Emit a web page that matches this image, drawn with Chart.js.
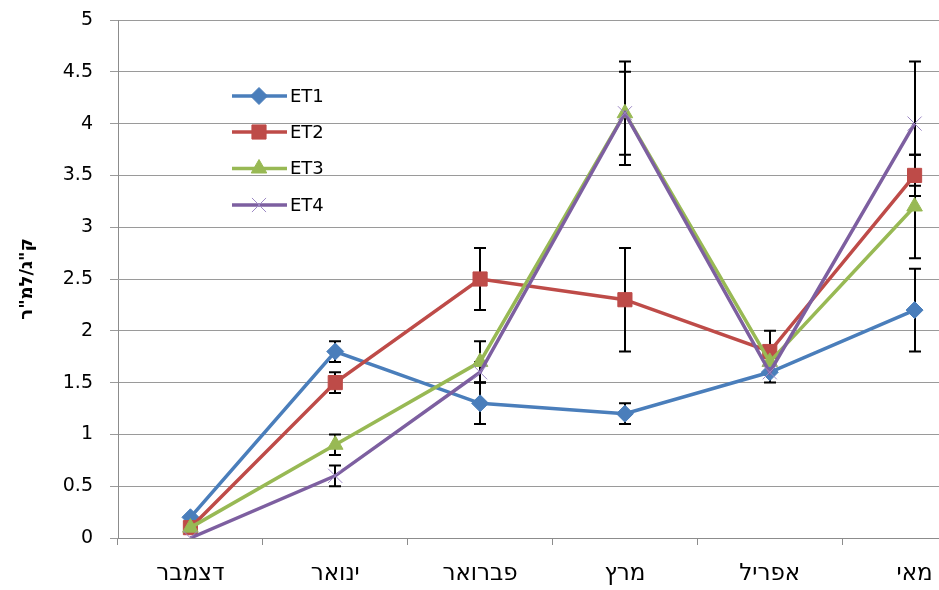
<!DOCTYPE html>
<html>
<head>
<meta charset="utf-8">
<script src="https://cdn.jsdelivr.net/npm/chart.js@4"></script>
<style>
  html, body { margin: 0; padding: 0; background: #fff; overflow: hidden; }
  #wrap { width: 939px; height: 590px; overflow: hidden; }
</style>
</head>
<body>
<div id="wrap"><canvas id="chart" width="1000" height="590"></canvas></div>
<script>
// chart data
const months = ["דצמבר", "ינואר", "פברואר", "מרץ", "אפריל", "מאי"];
const seriesNames = ["ET1", "ET2", "ET3", "ET4"];
const et1 = [0.2, 1.8, 1.3, 1.2, 1.6, 2.2];
const et2 = [0.1, 1.5, 2.5, 2.3, 1.8, 3.5];
const et3 = [0.1, 0.9, 1.7, 4.1, 1.7, 3.2];
const et4 = [0.0, 0.6, 1.6, 4.1, 1.6, 4.0];
// error bar half-heights
const et1Err = [0, 0.1, 0.2, 0.1, 0.1, 0.4];
const et2Err = [0, 0.1, 0.3, 0.5, 0.2, 0.2];
const et3Err = [0, 0.1, 0.2, 0.5, 0, 0.5];
const et4Err = [0, 0.1, 0.1, 0.4, 0, 0.6];
const yTitle = 'ק"ג/למ"ר';

const colors = ["#4A7EBB", "#BE4B48", "#98B954", "#7D5FA0"];
const styles = ["rectRot", "rect", "triangle", "crossRot"];
const radii = [8.5, 10, 9, 10];
const values = [et1, et2, et3, et4];
const errors = [et1Err, et2Err, et3Err, et4Err];

const FONT = "'DejaVu Sans', Verdana, sans-serif";

const datasets = values.map((v, i) => ({
  label: seriesNames[i],
  data: v,
  errors: errors[i],
  borderColor: colors[i],
  backgroundColor: colors[i],
  borderWidth: 3.5,
  tension: 0,
  pointStyle: styles[i],
  pointRadius: radii[i],
  pointHoverRadius: radii[i],
  pointBackgroundColor: colors[i],
  pointBorderColor: i === 3 ? "#9C88C4" : colors[i],
  pointBorderWidth: 1,
  order: 4 - i
}));

// error bars, drawn behind the series
const errorBars = {
  id: "errorBars",
  beforeDatasetsDraw(chart) {
    const ctx = chart.ctx;
    const y = chart.scales.y;
    ctx.save();
    ctx.strokeStyle = "#000";
    ctx.lineWidth = 2;
    chart.data.datasets.forEach((ds, di) => {
      const meta = chart.getDatasetMeta(di);
      meta.data.forEach((pt, j) => {
        const e = ds.errors[j];
        if (!e) return;
        const top = y.getPixelForValue(ds.data[j] + e);
        const bot = y.getPixelForValue(ds.data[j] - e);
        const x = Math.round(pt.x);
        ctx.beginPath();
        ctx.moveTo(x, top); ctx.lineTo(x, bot);
        ctx.moveTo(x - 6, top); ctx.lineTo(x + 6, top);
        ctx.moveTo(x - 6, bot); ctx.lineTo(x + 6, bot);
        ctx.stroke();
      });
    });
    ctx.restore();
  }
};

// legend inside the plot area
const innerLegend = {
  id: "innerLegend",
  afterDraw(chart) {
    const ctx = chart.ctx;
    const rows = [96, 132, 168.5, 205];
    ctx.save();
    chart.data.datasets.forEach((ds, i) => {
      const y = rows[i];
      ctx.strokeStyle = ds.borderColor;
      ctx.lineWidth = 3.5;
      ctx.beginPath();
      ctx.moveTo(232, y); ctx.lineTo(287, y);
      ctx.stroke();
      ctx.fillStyle = ds.pointBackgroundColor;
      ctx.strokeStyle = ds.pointBorderColor;
      ctx.lineWidth = 1;
      if (Chart.helpers && Chart.helpers.drawPoint) {
        Chart.helpers.drawPoint(ctx, {
          pointStyle: ds.pointStyle, radius: ds.pointRadius, borderWidth: 1, rotation: 0
        }, 259, y);
      }
      ctx.fillStyle = "#000";
      ctx.font = "18px " + FONT;
      ctx.textAlign = "left";
      ctx.textBaseline = "middle";
      ctx.fillText(ds.label, 290, y + 1);
    });
    ctx.restore();
  }
};

new Chart(document.getElementById("chart"), {
  type: "line",
  data: { labels: months, datasets: datasets },
  options: {
    responsive: false,
    animation: false,
    devicePixelRatio: 1,
    layout: { padding: { top: 20, right: 13, left: 0, bottom: 0 } },
    plugins: { legend: { display: false }, tooltip: { enabled: false } },
    scales: {
      x: {
        offset: true,
        grid: { display: true, drawOnChartArea: false, offset: true, tickLength: 7, color: "#8c8c8c" },
        border: { color: "#8c8c8c" },
        ticks: { color: "#000", font: { family: FONT, size: 23 }, padding: 15, maxRotation: 0 },
        afterFit(scale) { scale.height = 52; }
      },
      y: {
        min: 0,
        max: 5,
        ticks: {
          stepSize: 0.5, color: "#000", font: { family: FONT, size: 19 }, padding: 17,
          callback: (v) => String(v)
        },
        grid: { color: "#9a9a9a", tickLength: 8 },
        border: { color: "#8c8c8c" },
        title: {
          display: true,
          text: yTitle,
          color: "#000",
          font: { family: FONT, size: 18, weight: "bold" },
          padding: { top: 17, bottom: 0 }
        },
        afterFit(scale) {
          scale.width = 118;
          scale.paddingTop = 0;
          scale.paddingBottom = 0;
        }
      }
    }
  },
  plugins: [errorBars, innerLegend]
});
</script>
</body>
</html>
